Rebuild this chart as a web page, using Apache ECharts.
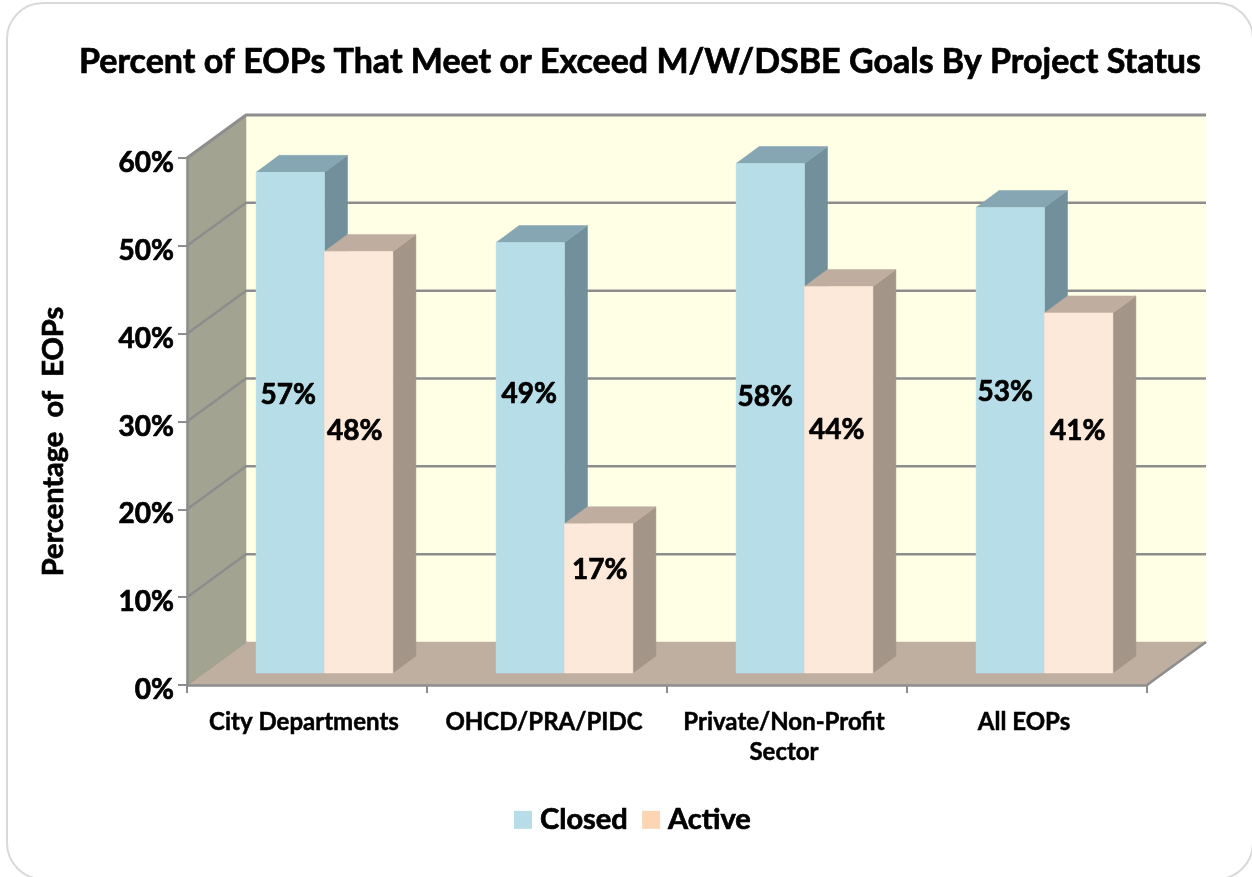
<!DOCTYPE html>
<html>
<head>
<meta charset="utf-8">
<style>html,body{margin:0;padding:0;background:#fff;overflow:hidden}#c{width:1252px;height:877px}</style>
<script src="https://cdn.jsdelivr.net/npm/echarts@6/dist/echarts.min.js"></script>
</head>
<body>
<div id="c"></div>
<script>
const categories = ['City Departments', 'OHCD/PRA/PIDC', 'Private/Non-Profit\nSector', 'All EOPs'];
const closedValues = [57, 49, 58, 53];
const activeValues = [48, 17, 44, 41];
const yTicks = [0, 10, 20, 30, 40, 50, 60];

// Hand-placed label nudges of the original, in pixels from each bar's centre
const closedLabelShift = [[-2, -28], [-1, -64], [-5, -21], [-5, -48]];
const activeLabelShift = [[-4, -31], [1, -28], [-2, -50], [-1, -62]];

const FONT = 'Lato, Carlito, sans-serif';
const WALL = [59, -43], FRONT = [17.5, -12], DEPTH = [23, -17];
const BAR_SHARE = 0.285;
const GRID_COLOR = '#8d8d8d';
const HEAVY = { textBorderColor: '#000', textBorderWidth: 0.7 };

const poly = (points, fill, z2) => ({
  type: 'polygon', shape: { points }, z2: z2 || 0,
  style: { fill, stroke: fill, lineWidth: 0.5 }
});

function renderWalls(params, api) {
  const cs = params.coordSys;
  const L = cs.x, R = cs.x + cs.width, B = cs.y + cs.height, T = cs.y;
  const [wx, wy] = WALL;
  const children = [
    poly([[L + wx, T + wy], [R + wx, T + wy], [R + wx, B + wy], [L + wx, B + wy]], '#ffffe6'),
    poly([[L, T], [L + wx, T + wy], [L + wx, B + wy], [L, B]], '#a3a392'),
    poly([[L, B], [L + wx, B + wy], [R + wx, B + wy], [R, B]], '#bfafa1')
  ];
  yTicks.forEach(t => {
    const y = api.coord([0, t])[1];
    if (t > 0) {
      children.push({
        type: 'polyline',
        shape: { points: [[L, y], [L + wx, y + wy], [R + wx, y + wy]] },
        style: { fill: null, stroke: GRID_COLOR, lineWidth: t === 60 ? 3 : 2.5 }
      });
    } else {
      children.push({
        type: 'line',
        shape: { x1: L, y1: y, x2: L + wx, y2: y + wy },
        style: { stroke: '#a0a090', lineWidth: 1.5 }
      });
    }
  });
  children.push({
    type: 'line',
    shape: { x1: R, y1: B, x2: R + wx, y2: B + wy },
    style: { stroke: GRID_COLOR, lineWidth: 2.5 }
  });
  return { type: 'group', children };
}

function barRenderer(side, colors, shifts) {
  return function (params, api) {
    const i = api.value(0), v = api.value(1);
    const band = api.size([1, 0])[0];
    const w = band * BAR_SHARE;
    const cx = api.coord([i, 0])[0] + FRONT[0];
    const x0 = side < 0 ? cx - w : cx, x1 = x0 + w;
    const base = api.coord([i, 0])[1] + FRONT[1];
    const top = api.coord([i, v])[1] + FRONT[1];
    const [dx, dy] = DEPTH;
    const [sx, sy] = shifts[i];
    return {
      type: 'group',
      children: [
        poly([[x1, base], [x1 + dx, base + dy], [x1 + dx, top + dy], [x1, top]], colors.side),
        poly([[x0, top], [x0 + dx, top + dy], [x1 + dx, top + dy], [x1, top]], colors.top),
        poly([[x0, top], [x1, top], [x1, base], [x0, base]], colors.front),
        {
          type: 'text', z2: 5,
          style: {
            x: (x0 + x1) / 2 + sx, y: (top + base) / 2 + sy,
            text: v + '%', fill: '#000', align: 'center', verticalAlign: 'middle',
            font: 'bold 28px ' + FONT, stroke: '#000', lineWidth: 0.7
          }
        }
      ]
    };
  };
}

const chart = echarts.init(document.getElementById('c'), null, { renderer: 'canvas' });
chart.setOption({
  animation: false,
  backgroundColor: '#ffffff',
  title: {
    text: 'Percent of EOPs That Meet or Exceed M/W/DSBE Goals By Project Status',
    left: 635, top: 40, textAlign: 'center',
    textStyle: { fontFamily: FONT, fontWeight: 'bold', fontSize: 34, color: '#000', ...HEAVY }
  },
  graphic: [{
    type: 'rect', z: -10, silent: true,
    shape: { x: 7, y: 3, width: 1246, height: 876, r: 36 },
    style: { fill: '#ffffff', stroke: '#d9d9d9', lineWidth: 2 }
  }],
  legend: {
    data: [{ name: 'Closed', icon: 'rect' }, { name: 'Active', icon: 'rect' }],
    left: 509, top: 800,
    itemWidth: 18, itemHeight: 18, itemGap: 14,
    textStyle: { fontFamily: FONT, fontWeight: 'bold', fontSize: 29, color: '#000', padding: [0, 0, 0, 3], ...HEAVY }
  },
  grid: { left: 187, top: 158, width: 960, height: 527 },
  xAxis: {
    type: 'category', data: categories, z: 5,
    axisLine: { lineStyle: { color: GRID_COLOR, width: 2.5 } },
    axisTick: { show: true, alignWithLabel: false, length: 8, lineStyle: { color: GRID_COLOR, width: 2 } },
    axisLabel: { margin: 22, padding: [0, 6, 0, 0], color: '#000', fontFamily: FONT, fontWeight: 'bold', fontSize: 24, lineHeight: 30, interval: 0, ...HEAVY, textBorderWidth: 0.5 }
  },
  yAxis: {
    type: 'value', min: 0, max: 60, interval: 10, z: 5,
    name: 'Percentage  of  EOPs', nameLocation: 'middle', nameGap: 119, nameRotate: 90,
    nameTextStyle: { color: '#000', fontFamily: FONT, fontWeight: 'bold', fontSize: 29, padding: [0, 40, 0, 0], ...HEAVY },
    axisLine: { show: true, lineStyle: { color: GRID_COLOR, width: 2.5 } },
    axisTick: { show: true, length: 9, lineStyle: { color: GRID_COLOR, width: 2 } },
    splitLine: { show: false },
    axisLabel: { margin: 13, verticalAlign: 'top', lineHeight: 10, color: '#000', fontFamily: FONT, fontWeight: 'bold', fontSize: 28, formatter: '{value}%', ...HEAVY }
  },
  series: [
    { type: 'custom', name: 'Walls', silent: true, z: 1, clip: false, data: [[0, 0]], renderItem: renderWalls, encode: { x: 0, y: 1 } },
    {
      type: 'custom', name: 'Closed', z: 2, clip: false,
      itemStyle: { color: '#b7dde8' },
      data: closedValues.map((v, i) => [i, v]), encode: { x: 0, y: 1 },
      renderItem: barRenderer(-1, { front: '#b7dee8', top: '#85a6b2', side: '#72909b' }, closedLabelShift)
    },
    {
      type: 'custom', name: 'Active', z: 3, clip: false,
      itemStyle: { color: '#fcd5b5' },
      data: activeValues.map((v, i) => [i, v]), encode: { x: 0, y: 1 },
      renderItem: barRenderer(1, { front: '#fde9d9', top: '#bfada0', side: '#a39588' }, activeLabelShift)
    }
  ]
});
</script>
</body>
</html>
